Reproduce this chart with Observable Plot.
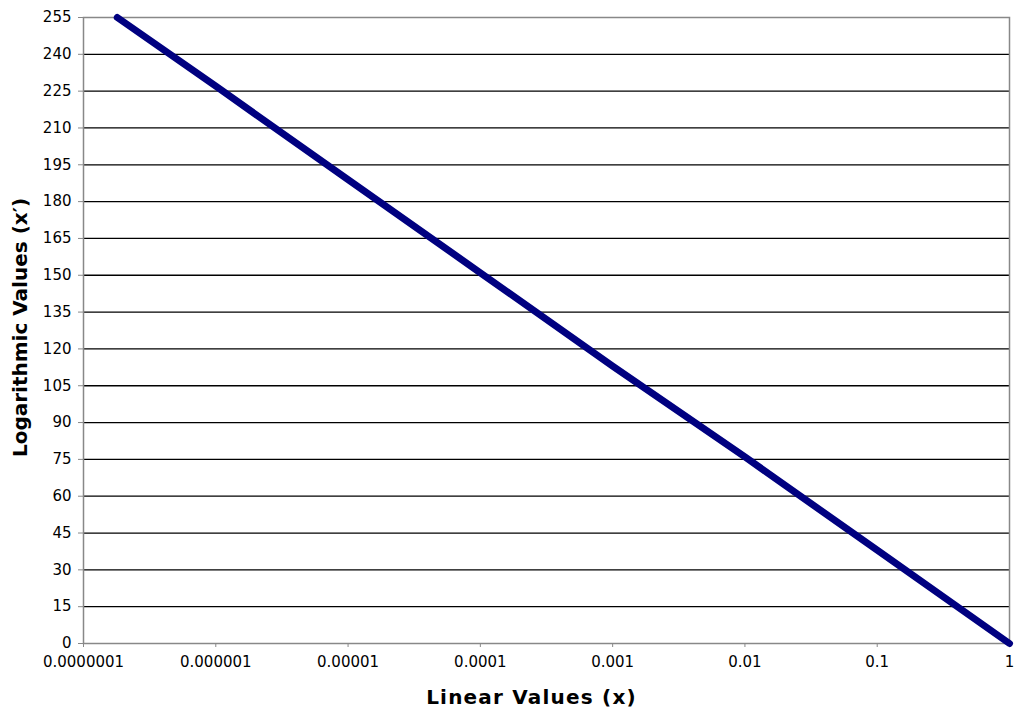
<!DOCTYPE html>
<html>
<head>
<meta charset="utf-8">
<script src="https://cdn.jsdelivr.net/npm/d3@7"></script>
<script src="https://cdn.jsdelivr.net/npm/@observablehq/plot@0.6"></script>
<style>
  html, body { margin: 0; padding: 0; background: #fff; }
  #chart svg { display: block; }
  .x-title { letter-spacing: 1.2px; }
</style>
</head>
<body>
<div id="chart"></div>
<script>
// Linear input values (x) and their logarithmic codes (x′)
const linearValues = [0.00000018, 0.000001, 0.00001, 0.0001, 0.001, 0.01, 0.1, 1];
const logValues    = [255, 227, 189, 151, 113, 76, 38, 0];

// Axis ticks
const xTicks = [0.0000001, 0.000001, 0.00001, 0.0001, 0.001, 0.01, 0.1, 1];
const xTickLabels = ["0.0000001", "0.000001", "0.00001", "0.0001", "0.001", "0.01", "0.1", "1"];
const yTicks = [0, 15, 30, 45, 60, 75, 90, 105, 120, 135, 150, 165, 180, 195, 210, 225, 240, 255];

const points = linearValues.map((x, i) => ({x, y: logValues[i]}));
const gridTicks = yTicks.filter(t => t > 0 && t < 255);

const chart = Plot.plot({
  width: 1014,
  height: 710,
  marginLeft: 83,
  marginRight: 5,
  marginTop: 17,
  marginBottom: 67,
  style: {fontFamily: "DejaVu Sans, Verdana, sans-serif", fontSize: "15px", color: "#000", background: "#fff"},
  x: {type: "log", domain: [0.0000001, 1]},
  y: {domain: [0, 255]},
  marks: [
    Plot.ruleY(gridTicks, {stroke: "#000", strokeWidth: 1.3}),
    Plot.frame({stroke: "#888", strokeWidth: 1.5}),
    Plot.axisY({
      ticks: yTicks, tickSize: 5, tickPadding: 7, stroke: "#888",
      fontSize: 15, tickFormat: d => String(d), label: null
    }),
    Plot.axisX({
      ticks: xTicks, tickSize: 4, tickPadding: 9, stroke: "#888",
      fontSize: 15, tickFormat: d => xTickLabels[xTicks.indexOf(d)], label: null
    }),
    Plot.line(points, {
      x: "x", y: "y", stroke: "#000080", strokeWidth: 7,
      strokeLinecap: "round", strokeLinejoin: "round"
    }),
    Plot.text(["Linear Values (x)"], {
      frameAnchor: "bottom", dx: -15, dy: 60, fontSize: 20, fontWeight: "bold", fill: "#000",
      className: "x-title"
    }),
    Plot.text(["Logarithmic Values (x′)"], {
      frameAnchor: "left", textAnchor: "middle", dx: -63, dy: -3, rotate: -90,
      fontSize: 20, fontWeight: "bold", fill: "#000"
    })
  ]
});

document.getElementById("chart").appendChild(chart);
</script>
</body>
</html>
